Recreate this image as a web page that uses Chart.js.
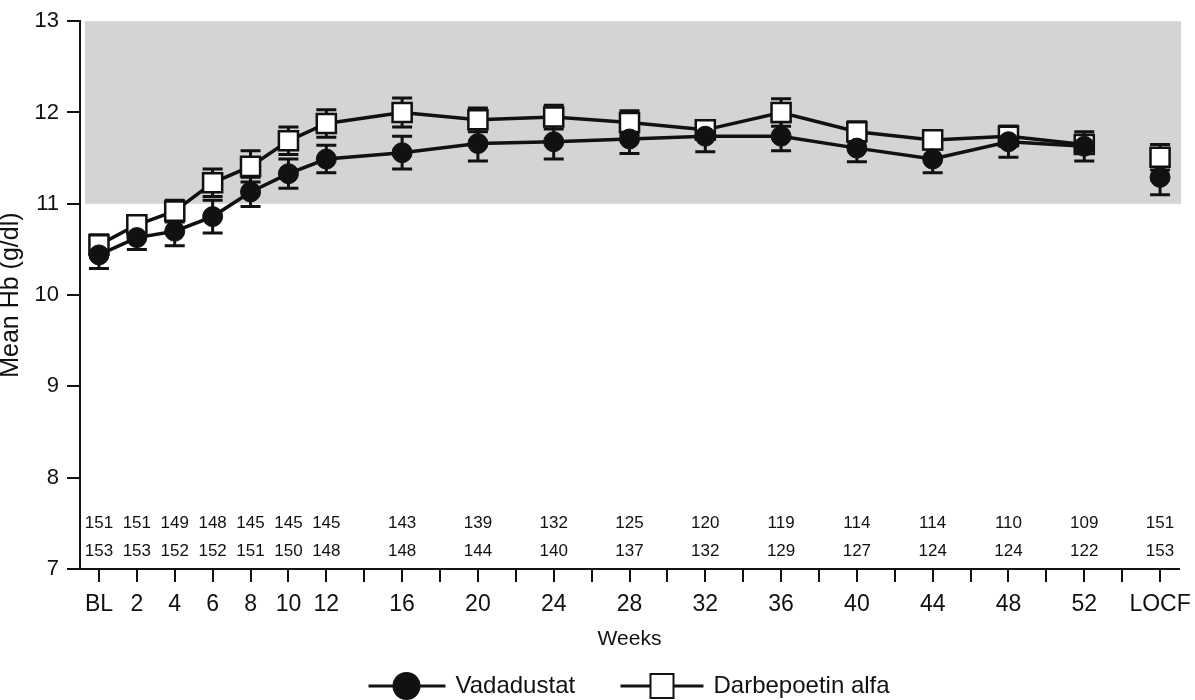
<!DOCTYPE html>
<html>
<head>
<meta charset="utf-8">
<title>Mean Hb over time</title>
<script src="https://cdn.jsdelivr.net/npm/chart.js@4.4.1/dist/chart.umd.min.js"></script>
<style>
  html, body { margin: 0; padding: 0; background: #fff; }
  #chart { display: block; }
</style>
</head>
<body>
<canvas id="chart" width="1195" height="700"></canvas>
<script>
const visitLabels = ["BL", "2", "4", "6", "8", "10", "12", "16", "20", "24", "28", "32", "36", "40", "44", "48", "52", "LOCF"];
const visitWeeks = [0, 2, 4, 6, 8, 10, 12, 16, 20, 24, 28, 32, 36, 40, 44, 48, 52, 56];
const tickWeeks = [0, 2, 4, 6, 8, 10, 12, 14, 16, 18, 20, 22, 24, 26, 28, 30, 32, 34, 36, 38, 40, 42, 44, 46, 48, 50, 52, 54, 56];

const vadadustatMean = [10.44, 10.63, 10.70, 10.86, 11.13, 11.33, 11.49, 11.56, 11.66, 11.68, 11.71, 11.74, 11.74, 11.61, 11.49, 11.68, 11.63, 11.29];
const vadadustatErr = [0.15, 0.13, 0.16, 0.18, 0.16, 0.16, 0.15, 0.18, 0.19, 0.19, 0.16, 0.17, 0.16, 0.15, 0.15, 0.17, 0.16, 0.19];
const darbepoetinMean = [10.55, 10.77, 10.92, 11.23, 11.41, 11.69, 11.88, 12.00, 11.92, 11.95, 11.89, 11.81, 12.00, 11.79, 11.70, 11.74, 11.65, 11.51];
const darbepoetinErr = [0.11, 0.10, 0.12, 0.15, 0.17, 0.15, 0.15, 0.16, 0.13, 0.13, 0.13, 0.10, 0.15, 0.11, 0.10, 0.11, 0.10, 0.14];

const vadadustatN = [151, 151, 149, 148, 145, 145, 145, 143, 139, 132, 125, 120, 119, 114, 114, 110, 109, 151];
const darbepoetinN = [153, 153, 152, 152, 151, 150, 148, 148, 144, 140, 137, 132, 129, 127, 124, 124, 122, 153];

const targetBand = [11, 13];

const FONT = "'Liberation Sans', Arial, Helvetica, sans-serif";
const INK = "#111";
const locfIndex = visitLabels.length - 1;

const toPoints = (values) => values.map((y, i) => ({ x: visitWeeks[i], y }));

// no line into the LOCF point
const hideLocfSegment = {
  borderColor: (ctx) => (ctx.p1DataIndex === locfIndex ? "rgba(0,0,0,0)" : INK),
};

const bandAndErrors = {
  id: "bandAndErrors",
  beforeDatasetsDraw(chart) {
    const { ctx, chartArea, scales } = chart;
    const x = scales.x;
    const y = scales.y;

    ctx.save();
    ctx.fillStyle = "#d4d4d4";
    const top = y.getPixelForValue(targetBand[1]);
    const bottom = y.getPixelForValue(targetBand[0]);
    ctx.fillRect(chartArea.left + 5, top, chartArea.right - chartArea.left - 3, bottom - top);

    ctx.strokeStyle = INK;
    ctx.lineWidth = 3;
    const series = [
      [darbepoetinMean, darbepoetinErr],
      [vadadustatMean, vadadustatErr],
    ];
    for (const [means, errs] of series) {
      means.forEach((m, i) => {
        const px = x.getPixelForValue(visitWeeks[i]);
        const hi = y.getPixelForValue(m + errs[i]);
        const lo = y.getPixelForValue(m - errs[i]);
        ctx.beginPath();
        ctx.moveTo(px, hi);
        ctx.lineTo(px, lo);
        ctx.moveTo(px - 10, hi);
        ctx.lineTo(px + 10, hi);
        ctx.moveTo(px - 10, lo);
        ctx.lineTo(px + 10, lo);
        ctx.stroke();
      });
    }
    ctx.restore();
  },
  afterDraw(chart) {
    const { ctx, chartArea, scales } = chart;
    const x = scales.x;
    const y = scales.y;

    ctx.save();
    ctx.fillStyle = INK;
    ctx.font = `17px ${FONT}`;
    ctx.textAlign = "center";
    ctx.textBaseline = "middle";
    const row1 = y.getPixelForValue(7.50);
    const row2 = y.getPixelForValue(7.19);
    visitWeeks.forEach((w, i) => {
      const px = x.getPixelForValue(w);
      ctx.fillText(String(vadadustatN[i]), px, row1);
      ctx.fillText(String(darbepoetinN[i]), px, row2);
    });

    // legend: line + marker + label
    const cy = 686;
    const cx = (chartArea.left + chartArea.right) / 2;
    ctx.strokeStyle = INK;
    ctx.lineWidth = 3;
    ctx.font = `24px ${FONT}`;
    ctx.textAlign = "left";

    let lx = cx - 261;
    ctx.beginPath();
    ctx.moveTo(lx, cy);
    ctx.lineTo(lx + 77, cy);
    ctx.stroke();
    ctx.beginPath();
    ctx.arc(lx + 38, cy, 14, 0, Math.PI * 2);
    ctx.fill();
    ctx.fillText("Vadadustat", lx + 87, cy);

    lx = cx - 9;
    ctx.beginPath();
    ctx.moveTo(lx, cy);
    ctx.lineTo(lx + 83, cy);
    ctx.stroke();
    ctx.fillStyle = "#fff";
    ctx.fillRect(lx + 30, cy - 12, 23, 24);
    ctx.lineWidth = 2;
    ctx.strokeRect(lx + 30, cy - 12, 23, 24);
    ctx.fillStyle = INK;
    ctx.fillText("Darbepoetin alfa", lx + 93, cy);
    ctx.restore();
  },
};

new Chart(document.getElementById("chart"), {
  type: "line",
  data: {
    datasets: [
      {
        label: "Vadadustat",
        data: toPoints(vadadustatMean),
        borderColor: INK,
        borderWidth: 3.5,
        pointStyle: "circle",
        pointRadius: 10,
        pointBackgroundColor: INK,
        pointBorderColor: INK,
        pointBorderWidth: 1,
        segment: hideLocfSegment,
      },
      {
        label: "Darbepoetin alfa",
        data: toPoints(darbepoetinMean),
        borderColor: INK,
        borderWidth: 3.5,
        pointStyle: "rect",
        pointRadius: 13.5,
        pointBackgroundColor: "#fff",
        pointBorderColor: INK,
        pointBorderWidth: 2.5,
        segment: hideLocfSegment,
      },
    ],
  },
  options: {
    responsive: false,
    animation: false,
    devicePixelRatio: 1,
    layout: { padding: { left: 0, top: 18, right: 13, bottom: 44 } },
    plugins: {
      legend: { display: false },
      tooltip: { enabled: false },
    },
    scales: {
      x: {
        type: "linear",
        min: -1,
        max: 57,
        afterBuildTicks: (scale) => {
          scale.ticks = tickWeeks.map((value) => ({ value }));
        },
        afterFit: (scale) => {
          scale.height = 87;
          // LOCF label may overhang; keep the axis end fixed
          scale.paddingLeft = 0;
          scale.paddingRight = 0;
        },
        ticks: {
          autoSkip: false,
          maxRotation: 0,
          padding: 9,
          color: INK,
          font: { family: FONT, size: 23 },
          callback: (value) => {
            const i = visitWeeks.indexOf(value);
            return i >= 0 ? visitLabels[i] : "";
          },
        },
        grid: {
          drawOnChartArea: false,
          drawTicks: true,
          tickLength: 13,
          color: INK,
          lineWidth: 2,
        },
        border: { display: true, color: INK, width: 2 },
        title: {
          display: true,
          text: "Weeks",
          color: INK,
          font: { family: FONT, size: 21 },
          padding: { top: 0, bottom: 4 },
        },
      },
      y: {
        min: 7,
        max: 13,
        afterFit: (scale) => {
          scale.width = 80;
        },
        ticks: {
          stepSize: 1,
          padding: 8,
          color: INK,
          font: { family: FONT, size: 22 },
        },
        grid: {
          drawOnChartArea: false,
          drawTicks: true,
          tickLength: 13,
          color: INK,
          lineWidth: 2,
        },
        border: { display: true, color: INK, width: 2 },
        title: {
          display: true,
          text: "Mean Hb (g/dl)",
          color: INK,
          font: { family: FONT, size: 25, lineHeight: 0.85 },
          padding: 0,
        },
      },
    },
  },
  plugins: [bandAndErrors],
});
</script>
</body>
</html>
